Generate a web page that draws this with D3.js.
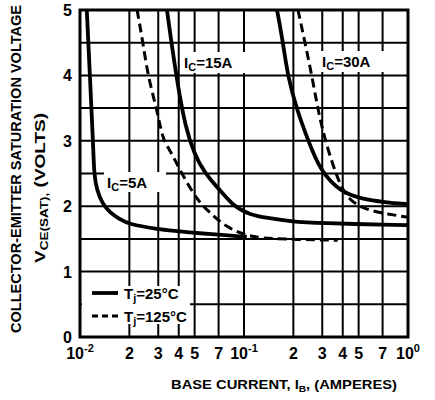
<!DOCTYPE html>
<html>
<head>
<meta charset="utf-8">
<script src="https://cdn.jsdelivr.net/npm/d3@7"></script>
<style>
  body { margin: 0; background: #fff; }
  text { font-family: "Liberation Sans", Arial, sans-serif; font-weight: bold; fill: #000; }
</style>
</head>
<body>
<div id="chart"></div>
<script>
// base current (A) / Vce(sat) (V)
var ic5_25 = [[0.0110,5.0],[0.0115,3.98],[0.0120,3.0],[0.0122,2.45],[0.0127,2.25],[0.0136,2.05],
  [0.0152,1.90],[0.0175,1.80],[0.0196,1.73],[0.0295,1.65],[0.039,1.62],[0.050,1.59],[0.074,1.56],[0.104,1.53]];
var ic15_25 = [[0.0339,5.0],[0.0437,3.0],[0.0595,2.45],[0.0714,2.25],[0.0869,1.99],[0.109,1.87],
  [0.138,1.82],[0.191,1.77],[0.279,1.74],[1.0,1.71]];
var ic15_125 = [[0.0223,5.0],[0.0242,4.5],[0.0260,3.98],[0.0295,3.47],[0.0320,3.01],[0.0354,2.86],
  [0.0407,2.55],[0.0517,2.09],[0.062,1.90],[0.0787,1.67],[0.1045,1.55],[0.134,1.50],[0.373,1.48]];
var ic30_25 = [[0.159,5.0],[0.173,4.5],[0.185,3.98],[0.2105,3.47],[0.2456,3.01],[0.2906,2.55],
  [0.385,2.22],[0.524,2.11],[0.724,2.06],[1.0,2.03]];
var ic30_125 = [[0.2135,5.0],[0.2355,4.5],[0.260,3.98],[0.2826,3.47],[0.312,3.01],[0.369,2.43],
  [0.4305,2.09],[0.562,1.94],[0.755,1.88],[1.0,1.83]];

var xGrid = [0.02,0.03,0.04,0.05,0.07,0.1,0.2,0.3,0.4,0.5,0.7];
var yGrid = [0.5,1,1.5,2,2.5,3,3.5,4,4.5];
var xTicks = [[0.01,"10","-2"],[0.02,"2"],[0.03,"3"],[0.04,"4"],[0.05,"5"],[0.07,"7"],
  [0.1,"10","-1"],[0.2,"2"],[0.3,"3"],[0.4,"4"],[0.5,"5"],[0.7,"7"],[1,"10","0"]];
var yTicks = [0,1,2,3,4,5];

var W = 435, H = 400;
var svg = d3.select("#chart").append("svg").attr("width", W).attr("height", H);

var x = d3.scaleLog().domain([0.01, 1]).range([80, 408]);
var y = d3.scaleLinear().domain([0, 5]).range([337, 10]);

// grid
svg.append("g").selectAll("line").data(xGrid).enter().append("line")
  .attr("x1", d => x(d)).attr("x2", d => x(d))
  .attr("y1", y(5)).attr("y2", y(0))
  .attr("stroke", "#000").attr("stroke-width", 2);
svg.append("g").selectAll("line").data(yGrid).enter().append("line")
  .attr("x1", x(0.01)).attr("x2", x(1))
  .attr("y1", d => y(d)).attr("y2", d => y(d))
  .attr("stroke", "#000").attr("stroke-width", 2);

// white patches behind labels / legend
function patch(x0, y0, w, h) {
  svg.append("rect").attr("x", x0).attr("y", y0).attr("width", w).attr("height", h).attr("fill", "#fff");
}
patch(82, 286, 108, 38);
patch(181, 52, 70, 21);
patch(320, 51, 66, 21);
patch(104, 172, 62, 20);

// frame
svg.append("rect").attr("x", x(0.01)).attr("y", y(5))
  .attr("width", x(1) - x(0.01)).attr("height", y(0) - y(5))
  .attr("fill", "none").attr("stroke", "#000").attr("stroke-width", 3);

// curves
var lineX = d3.line().x(d => x(d[0])).y(d => y(d[1])).curve(d3.curveBasis);
[ic5_25, ic15_25, ic30_25].forEach(function (s) {
  svg.append("path").attr("d", lineX(s)).attr("fill", "none")
    .attr("stroke", "#000").attr("stroke-width", 3.8);
});
[ic15_125, ic30_125].forEach(function (s) {
  svg.append("path").attr("d", lineX(s)).attr("fill", "none")
    .attr("stroke", "#000").attr("stroke-width", 3).attr("stroke-dasharray", "9,5");
});

// curve labels
function icLabel(px, py, val) {
  var t = svg.append("text").attr("x", px).attr("y", py).attr("font-size", 15);
  t.append("tspan").text("I");
  t.append("tspan").attr("font-size", 11).attr("dy", 3).text("C");
  t.append("tspan").attr("dy", -3).text("=" + val);
}
icLabel(184, 68, "15A");
icLabel(322, 67, "30A");
icLabel(107, 188, "5A");

// legend
svg.append("line").attr("x1", 92).attr("x2", 118).attr("y1", 293).attr("y2", 293)
  .attr("stroke", "#000").attr("stroke-width", 3.8);
svg.append("line").attr("x1", 92).attr("x2", 118).attr("y1", 316).attr("y2", 316)
  .attr("stroke", "#000").attr("stroke-width", 3).attr("stroke-dasharray", "6,4");
function tjLabel(py, val) {
  var t = svg.append("text").attr("x", 124).attr("y", py).attr("font-size", 15);
  t.append("tspan").text("T");
  t.append("tspan").attr("font-size", 11).attr("dy", 3).text("j");
  t.append("tspan").attr("dy", -3).text("=" + val + "\u00B0C");
}
tjLabel(299, "25");
tjLabel(322, "125");

// y tick labels
svg.append("g").selectAll("text").data(yTicks).enter().append("text")
  .attr("x", 72).attr("y", d => y(d) + 6)
  .attr("text-anchor", "end").attr("font-size", 16)
  .text(d => d);

// x tick labels
var xt = svg.append("g").selectAll("text").data(xTicks).enter().append("text")
  .attr("x", d => x(d[0])).attr("y", 359)
  .attr("text-anchor", "middle").attr("font-size", 16);
xt.append("tspan").text(d => d[1]);
xt.filter(d => d[2]).append("tspan").attr("font-size", 11).attr("dy", -7).text(d => d[2]);

// axis titles
svg.append("text").attr("x", 284).attr("y", 389).attr("text-anchor", "middle")
  .attr("font-size", 13).attr("textLength", 226).attr("lengthAdjust", "spacingAndGlyphs")
  .html('BASE CURRENT, I<tspan font-size="9" dy="3">B</tspan><tspan dy="-3">, (AMPERES)</tspan>');

svg.append("text").attr("transform", "translate(21,169) rotate(-90)")
  .attr("text-anchor", "middle").attr("font-size", 14)
  .attr("textLength", 328).attr("lengthAdjust", "spacingAndGlyphs")
  .text("COLLECTOR-EMITTER SATURATION VOLTAGE");

var v = svg.append("text").attr("transform", "translate(45,188) rotate(-90)")
  .attr("text-anchor", "middle").attr("font-size", 14)
  .attr("textLength", 150).attr("lengthAdjust", "spacingAndGlyphs");
v.append("tspan").text("V");
v.append("tspan").attr("font-size", 10).attr("dy", 3).text("CE(SAT),");
v.append("tspan").attr("dy", -3).text(" (VOLTS)");
</script>
</body>
</html>
